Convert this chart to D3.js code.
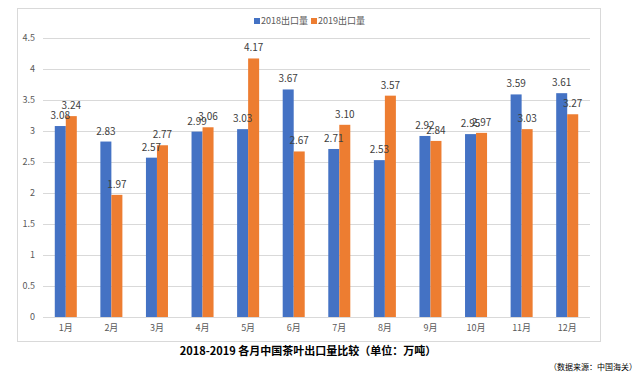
<!DOCTYPE html>
<html>
<head>
<meta charset="utf-8">
<script src="https://cdn.jsdelivr.net/npm/d3@7"></script>
<style>
  body { margin: 0; background: #fff; }
  text { font-family: "Noto Sans CJK SC", "Liberation Sans", sans-serif; }
</style>
</head>
<body>
<div id="chart"></div>
<script>
// values (unit: 万吨)
const months = ["1月", "2月", "3月", "4月", "5月", "6月", "7月", "8月", "9月", "10月", "11月", "12月"]
const series = ["2018出口量", "2019出口量"]
const exp2018 = [3.08, 2.83, 2.57, 2.99, 3.03, 3.67, 2.71, 2.53, 2.92, 2.95, 3.59, 3.61]
const exp2019 = [3.24, 1.97, 2.77, 3.06, 4.17, 2.67, 3.10, 3.57, 2.84, 2.97, 3.03, 3.27]
const yTicks = [0, 0.5, 1, 1.5, 2, 2.5, 3, 3.5, 4, 4.5]

const width = 640
const height = 376
const colors = ["#4472C4", "#ED7D31"]

const svg = d3.select("#chart").append("svg")
    .attr("width", width)
    .attr("height", height)

// chart frame
svg.append("rect")
    .attr("x", 17.5).attr("y", 8.5)
    .attr("width", 583).attr("height", 333)
    .attr("fill", "none")
    .attr("stroke", "#d9d9d9")

const x = d3.scaleBand().domain(months).range([43, 590])
const x1 = d3.scaleBand().domain(series).range([0, x.bandwidth()]).paddingInner(0).paddingOuter(1.07)
const y = d3.scaleLinear().domain([0, 4.5]).range([317, 38])

// gridlines + y labels
const grid = svg.append("g")
grid.selectAll("line")
    .data(yTicks)
    .join("line")
    .attr("x1", 43).attr("x2", 590)
    .attr("y1", d => Math.round(y(d)) + 0.5)
    .attr("y2", d => Math.round(y(d)) + 0.5)
    .attr("stroke", "#d9d9d9")

grid.selectAll("text")
    .data(yTicks)
    .join("text")
    .attr("x", 35)
    .attr("y", d => y(d))
    .attr("dy", "0.35em")
    .attr("text-anchor", "end")
    .attr("font-size", 9)
    .attr("fill", "#595959")
    .text(d => d)

// x labels
svg.append("g")
    .selectAll("text")
    .data(months)
    .join("text")
    .attr("x", d => x(d) + x.bandwidth() / 2)
    .attr("y", 328)
    .attr("dy", "0.35em")
    .attr("text-anchor", "middle")
    .attr("font-size", 9)
    .attr("fill", "#595959")
    .text(d => d)

const rows = months.map((m, i) => ({ month: m, values: [exp2018[i], exp2019[i]] }))

const groups = svg.append("g")
    .selectAll("g")
    .data(rows)
    .join("g")
    .attr("transform", d => `translate(${x(d.month)},0)`)

groups.selectAll("rect")
    .data(d => d.values.map((v, k) => ({ key: series[k], v, k })))
    .join("rect")
    .attr("x", d => x1(d.key))
    .attr("y", d => y(d.v))
    .attr("width", x1.bandwidth())
    .attr("height", d => y(0) - y(d.v))
    .attr("fill", d => colors[d.k])

// data labels
groups.selectAll("text")
    .data(d => d.values.map((v, k) => ({ key: series[k], v, k })))
    .join("text")
    .attr("x", d => x1(d.key) + x1.bandwidth() / 2)
    .attr("y", d => y(d.v) - 7)
    .attr("text-anchor", "middle")
    .attr("font-size", 10)
    .attr("fill", "#404040")
    .text(d => d3.format(".2f")(d.v))

// legend
const legend = svg.append("g").attr("font-size", 9).attr("fill", "#595959")
const legendX = [254, 311]
series.forEach((s, k) => {
    legend.append("rect")
        .attr("x", legendX[k]).attr("y", 18)
        .attr("width", 6).attr("height", 6)
        .attr("fill", colors[k])
    legend.append("text")
        .attr("x", legendX[k] + 7).attr("y", 21)
        .attr("dy", "0.35em")
        .text(s)
})

// title and source
svg.append("text")
    .attr("x", 308).attr("y", 351)
    .attr("dy", "0.35em")
    .attr("text-anchor", "middle")
    .attr("font-size", 11)
    .attr("font-weight", "bold")
    .attr("fill", "#000")
    .text("2018-2019 各月中国茶叶出口量比较（单位：万吨）")

svg.append("text")
    .attr("x", 637).attr("y", 367)
    .attr("dy", "0.35em")
    .attr("text-anchor", "end")
    .attr("font-size", 8)
    .attr("fill", "#000")
    .text("（数据来源：中国海关）")
</script>
</body>
</html>
